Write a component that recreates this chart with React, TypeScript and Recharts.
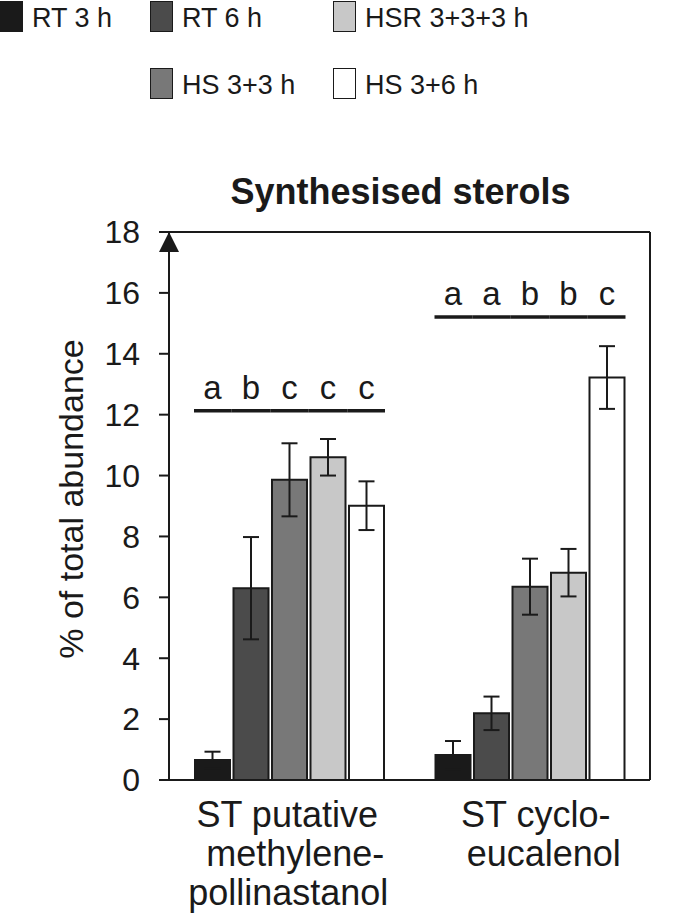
import { BarChart, Bar, XAxis, YAxis, ErrorBar, LabelList, ReferenceLine, Legend } from 'recharts'

// Categories and their wrapped tick labels
const categories = ['ST putative methylene-pollinastanol', 'ST cyclo-eucalenol']
const categoryLines = [
  ['ST putative', 'methylene-', 'pollinastanol'],
  ['ST cyclo-', 'eucalenol'],
]

// Series values (% of total abundance) and error bars
const rt3h = [0.66, 0.82]
const rt3hErr = [0.27, 0.46]
const rt6h = [6.3, 2.19]
const rt6hErr = [1.68, 0.55]
const hs33h = [9.86, 6.35]
const hs33hErr = [1.2, 0.92]
const hsr333h = [10.6, 6.81]
const hsr333hErr = [0.6, 0.78]
const hs36h = [9.01, 13.22]
const hs36hErr = [0.8, 1.03]

// Significance letters and the level of the bracket line per category
const rt3hLetters = ['a', 'a']
const rt6hLetters = ['b', 'a']
const hs33hLetters = ['c', 'b']
const hsr333hLetters = ['c', 'b']
const hs36hLetters = ['c', 'c']
const sigLevels = [12.13, 15.21]

const yTicks = [0, 2, 4, 6, 8, 10, 12, 14, 16, 18]

const INK = '#1a1a1a'
const FONT = '"Liberation Sans", Arial, sans-serif'
const BAR_GAP = 3.5

const series = [
  { key: 'rt3h', name: 'RT 3 h', fill: '#1a1a1a', values: rt3h, errors: rt3hErr, letters: rt3hLetters },
  { key: 'rt6h', name: 'RT 6 h', fill: '#4b4b4b', values: rt6h, errors: rt6hErr, letters: rt6hLetters },
  { key: 'hs33h', name: 'HS 3+3 h', fill: '#787878', values: hs33h, errors: hs33hErr, letters: hs33hLetters },
  { key: 'hsr333h', name: 'HSR 3+3+3 h', fill: '#c8c8c8', values: hsr333h, errors: hsr333hErr, letters: hsr333hLetters },
  { key: 'hs36h', name: 'HS 3+6 h', fill: '#ffffff', values: hs36h, errors: hs36hErr, letters: hs36hLetters },
]

const data = categories.map((name, i) => {
  const row: Record<string, any> = { name }
  series.forEach(s => {
    row[s.key] = s.values[i]
    row[s.key + 'Err'] = s.errors[i]
  })
  return row
})

// legend slots: [left, top] for each series, 3 columns x 2 rows
const legendSlots: Record<string, [number, number]> = {
  rt3h: [0, 1],
  rt6h: [150, 1],
  hs33h: [150, 68],
  hsr333h: [333, 1],
  hs36h: [333, 68],
}

const LegendContent = () => (
  <div style={{ position: 'relative', width: 697, height: 110, fontFamily: FONT }}>
    {series.map(s => {
      const [left, top] = legendSlots[s.key]
      return (
        <div key={s.key} style={{ position: 'absolute', left, top, display: 'flex', alignItems: 'center', whiteSpace: 'nowrap' }}>
          <div style={{ width: 21, height: 29, background: s.fill, border: `1.5px solid ${INK}` }} />
          <span style={{ marginLeft: 9, fontSize: 27, color: INK, lineHeight: '31px', position: 'relative', top: 2 }}>{s.name}</span>
        </div>
      )
    })}
  </div>
)

// bracket line + letter drawn over each bar, using the bar's own scale
const makeSigLabel = (si: number) => (props: any) => {
  const { x, y, width, height, index } = props
  const value = series[si].values[index]
  if (!value || !height) return null
  const base = y + height
  const perUnit = height / value
  const ly = base - sigLevels[index] * perUnit
  const x1 = si === 0 ? x - 1 : x - BAR_GAP / 2
  const x2 = si === series.length - 1 ? x + width + 1 : x + width + BAR_GAP / 2
  return (
    <g>
      <line x1={x1} x2={x2} y1={ly} y2={ly} stroke={INK} strokeWidth={3.5} />
      <text x={x + width / 2} y={ly - 12} textAnchor="middle" fontSize={33} fill={INK} fontFamily={FONT}>
        {series[si].letters[index]}
      </text>
    </g>
  )
}

const CategoryTick = (props: any) => {
  const { x, y, index } = props
  const lines = categoryLines[index] || []
  const shifts = index === 0 ? [-2, 6, -1] : [6, 14]
  return (
    <g>
      {lines.map((line, i) => (
        <text key={i} x={x + shifts[i]} y={y + 47 + i * 39} textAnchor="middle" fontSize={36} fill={INK} fontFamily={FONT}>
          {line}
        </text>
      ))}
    </g>
  )
}

const TitleLabel = (props: any) => {
  const vb = props.viewBox || {}
  return (
    <text x={vb.x + vb.width / 2 - 9} y={vb.y - 28} textAnchor="middle" fontSize={36} fontWeight="bold" fill={INK} fontFamily={FONT}>
      Synthesised sterols
    </text>
  )
}

const YLabel = (props: any) => {
  const vb = props.viewBox || {}
  const cx = vb.x + 2
  const cy = vb.y + vb.height / 2 - 7
  return (
    <text x={cx} y={cy} textAnchor="middle" dominantBaseline="central" transform={`rotate(-90, ${cx}, ${cy})`} fontSize={34} fill={INK} fontFamily={FONT}>
      % of total abundance
    </text>
  )
}

export default function App() {
  return (
    <div style={{ width: 697, height: 915, background: '#fff' }}>
      <style>{'body{margin:0;background:#fff}'}</style>
      <BarChart
        width={697}
        height={915}
        data={data}
        margin={{ top: 232, right: 0, bottom: 0, left: 69 }}
        barSize={35}
        barGap={BAR_GAP}
        style={{ fontFamily: FONT }}
      >
        <defs>
          <marker id="yArrow" viewBox="0 0 20 20" refX={10} refY={0} markerWidth={20} markerHeight={20} markerUnits="userSpaceOnUse" orient="0" overflow="visible">
            <path d="M10,0 L20,20 L0,20 Z" fill={INK} />
          </marker>
        </defs>
        <Legend
          content={LegendContent}
          layout="horizontal"
          verticalAlign="middle"
          align="center"
          wrapperStyle={{ position: 'absolute', top: 0, left: 0, width: 697, height: 110 }}
        />
        <XAxis
          dataKey="name"
          height={135}
          tickLine={false}
          tickSize={0}
          tickMargin={0}
          interval={0}
          axisLine={{ stroke: INK, strokeWidth: 2 }}
          tick={CategoryTick}
        />
        <YAxis
          width={100}
          domain={[0, 18]}
          ticks={yTicks}
          interval={0}
          tickSize={10}
          tickMargin={19}
          tick={{ fontSize: 32, fill: INK, fontFamily: FONT }}
          tickLine={{ stroke: INK, strokeWidth: 2 }}
          axisLine={{ stroke: INK, strokeWidth: 2, markerStart: 'url(#yArrow)' }}
          label={YLabel}
        />
        <YAxis
          yAxisId="frame"
          orientation="right"
          width={47}
          domain={[0, 18]}
          tick={false}
          tickLine={false}
          axisLine={{ stroke: INK, strokeWidth: 2 }}
        />
        <ReferenceLine y={18} stroke={INK} strokeWidth={2} label={TitleLabel} />
        {series.map((s, si) => (
          <Bar key={s.key} dataKey={s.key} name={s.name} fill={s.fill} stroke={INK} strokeWidth={2} isAnimationActive={false}>
            <ErrorBar dataKey={s.key + 'Err'} width={8} stroke={INK} strokeWidth={2} isAnimationActive={false} />
            <LabelList dataKey={s.key} content={makeSigLabel(si)} />
          </Bar>
        ))}
      </BarChart>
    </div>
  )
}
